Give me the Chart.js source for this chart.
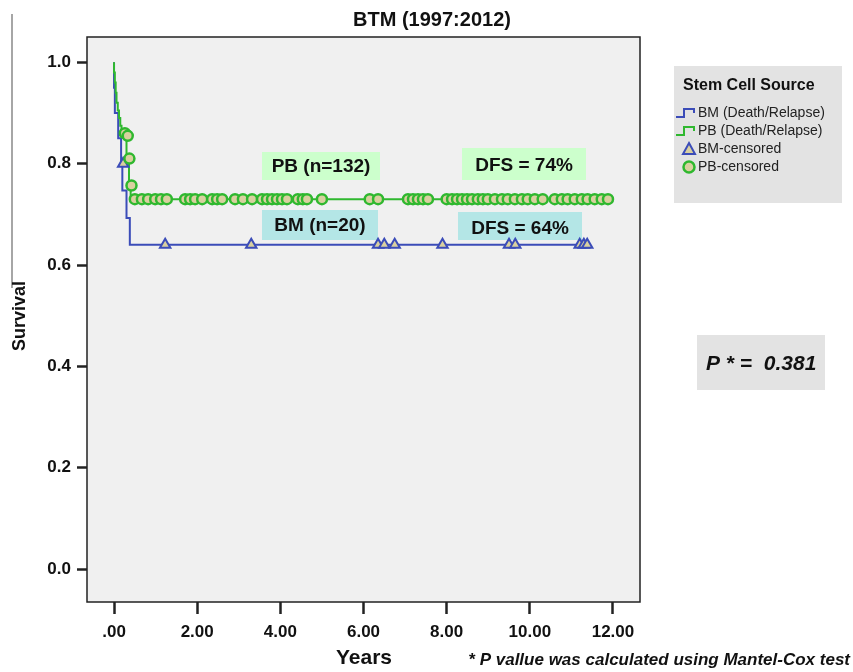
<!DOCTYPE html>
<html>
<head>
<meta charset="utf-8">
<script src="https://cdn.jsdelivr.net/npm/chart.js@4.4.1/dist/chart.umd.min.js"></script>
<style>
  body { margin: 0; background: #fff; }
  #wrap { width: 853px; height: 672px; position: relative; }
</style>
</head>
<body>
<div id="wrap"><canvas id="kmChart" width="853" height="672"></canvas></div>
<script>
// axis ticks
const xTicks = [0, 2, 4, 6, 8, 10, 12];
const yTicks = [0, 0.2, 0.4, 0.6, 0.8, 1.0];

// BM (Death/Relapse) step curve
const bmTimes = [0, 0.02, 0.10, 0.17, 0.20, 0.30, 0.38, 0.43, 11.38];
const bmSurv  = [1.0, 0.95, 0.90, 0.85, 0.80, 0.747, 0.693, 0.64, 0.64];
// BM censored
const bmCensT = [0.22, 1.23, 3.3, 6.35, 6.5, 6.75, 7.9, 9.5, 9.65, 11.2, 11.3, 11.38];
const bmCensS = [0.80, 0.64, 0.64, 0.64, 0.64, 0.64, 0.64, 0.64, 0.64, 0.64, 0.64, 0.64];

// PB (Death/Relapse) step curve
const pbTimes = [0, 0.02, 0.04, 0.06, 0.09, 0.12, 0.15, 0.18, 0.21, 0.24, 0.30, 0.36, 0.40, 0.45, 11.9];
const pbSurv  = [1.0, 0.98, 0.96, 0.94, 0.92, 0.905, 0.89, 0.875, 0.865, 0.86, 0.855, 0.81, 0.757, 0.73, 0.73];
// PB censored
const pbCensT = [0.26, 0.33, 0.37, 0.42,
  0.50, 0.67, 0.82, 0.99, 1.13, 1.27, 1.71, 1.83, 1.95, 2.12, 2.36, 2.48, 2.6, 2.91, 3.1,
  3.32, 3.56, 3.68, 3.8, 3.92, 4.04, 4.16, 4.42, 4.54, 4.64, 5.0, 6.15, 6.35,
  7.07, 7.19, 7.31, 7.43, 7.55, 8.0, 8.13, 8.25, 8.37, 8.49, 8.61, 8.75, 8.87,
  8.99, 9.16, 9.33, 9.47, 9.64, 9.81, 9.95, 10.12, 10.31, 10.6, 10.77, 10.91,
  11.08, 11.25, 11.39, 11.56, 11.73, 11.88];
const pbCensS = pbCensT.map((t, i) => [0.86, 0.855, 0.81, 0.757][i] ?? 0.73);

const BLUE = "#3b4cb8";
const GREEN = "#2fb82f";
const KHAKI = "#d9d0a0";
const NARROW = "'Liberation Sans Narrow', 'Liberation Sans', Arial, sans-serif";
const SANS = "'Liberation Sans', Arial, sans-serif";

const pts = (xs, ys) => xs.map((x, i) => ({ x: x, y: ys[i] }));

function box(ctx, x, y, w, h, bg) {
  ctx.fillStyle = bg;
  ctx.fillRect(x, y, w, h);
}

const decor = {
  id: "decor",
  beforeDraw(chart) {
    const { ctx, chartArea: a } = chart;
    ctx.save();
    ctx.fillStyle = "#f0f0f0";
    ctx.fillRect(a.left, a.top, a.right - a.left, a.bottom - a.top);
    // annotation boxes
    ctx.font = "bold 19px " + SANS;
    ctx.textBaseline = "middle";
    ctx.textAlign = "center";
    box(ctx, 262, 152, 118, 28, "#ccffcc");
    box(ctx, 462, 148, 124, 32, "#ccffcc");
    box(ctx, 262, 210, 116, 30, "#b4e6e6");
    box(ctx, 458, 212, 124, 28, "#b4e6e6");
    ctx.fillStyle = "#111";
    ctx.fillText("PB (n=132)", 321, 167);
    ctx.fillText("DFS = 74%", 524, 166);
    ctx.fillText("BM (n=20)", 320, 226);
    ctx.fillText("DFS = 64%", 520, 229);
    ctx.restore();
  },
  afterDraw(chart) {
    const { ctx, chartArea: a } = chart;
    ctx.save();
    // plot frame
    ctx.strokeStyle = "#222";
    ctx.lineWidth = 1.5;
    ctx.strokeRect(a.left, a.top, a.right - a.left, a.bottom - a.top);
    // left stray line
    ctx.strokeStyle = "#888";
    ctx.lineWidth = 1.5;
    ctx.beginPath();
    ctx.moveTo(12, 14);
    ctx.lineTo(12, 288);
    ctx.stroke();
    // title
    ctx.fillStyle = "#111";
    ctx.textAlign = "center";
    ctx.textBaseline = "middle";
    ctx.font = "bold 20px " + NARROW;
    ctx.fillText("BTM (1997:2012)", 432, 20);
    // x title + footnote
    ctx.font = "bold 21px " + NARROW;
    ctx.fillText("Years", 364, 658);
    ctx.font = "italic bold 17px " + NARROW;
    ctx.textAlign = "right";
    ctx.fillText("* P vallue was calculated using Mantel-Cox test", 850, 660);
    // y title
    ctx.save();
    ctx.translate(20, 316);
    ctx.rotate(-Math.PI / 2);
    ctx.textAlign = "center";
    ctx.font = "bold 18px " + SANS;
    ctx.fillText("Survival", 0, 0);
    ctx.restore();
    // legend
    box(ctx, 674, 66, 168, 137, "#e3e3e3");
    ctx.fillStyle = "#111";
    ctx.textAlign = "left";
    ctx.font = "bold 16px " + SANS;
    ctx.fillText("Stem Cell Source", 683, 86);
    ctx.font = "14px " + SANS;
    const rows = [
      ["BM (Death/Relapse)", "step", BLUE],
      ["PB (Death/Relapse)", "step", GREEN],
      ["BM-censored", "tri", BLUE],
      ["PB-censored", "circ", GREEN]
    ];
    rows.forEach((r, i) => {
      const y = 113 + i * 18;
      ctx.strokeStyle = r[2];
      ctx.lineWidth = 2;
      if (r[1] === "step") {
        ctx.beginPath();
        ctx.moveTo(676, y + 4);
        ctx.lineTo(684, y + 4);
        ctx.lineTo(684, y - 4);
        ctx.lineTo(694, y - 4);
        ctx.lineTo(694, y);
        ctx.stroke();
      } else if (r[1] === "tri") {
        ctx.fillStyle = KHAKI;
        ctx.beginPath();
        ctx.moveTo(689, y - 6);
        ctx.lineTo(695, y + 5);
        ctx.lineTo(683, y + 5);
        ctx.closePath();
        ctx.fill();
        ctx.stroke();
      } else {
        ctx.fillStyle = KHAKI;
        ctx.lineWidth = 2.5;
        ctx.beginPath();
        ctx.arc(689, y, 5.5, 0, Math.PI * 2);
        ctx.fill();
        ctx.stroke();
      }
      ctx.fillStyle = "#222";
      ctx.fillText(r[0], 698, y);
    });
    // p value box
    box(ctx, 697, 335, 128, 55, "#e3e3e3");
    ctx.fillStyle = "#111";
    ctx.font = "italic bold 21px " + SANS;
    ctx.fillText("P * =  0.381", 706, 364);
    ctx.restore();
  }
};

new Chart(document.getElementById("kmChart"), {
  type: "line",
  data: {
    datasets: [
      {
        label: "BM (Death/Relapse)",
        data: pts(bmTimes, bmSurv),
        borderColor: BLUE,
        borderWidth: 2,
        stepped: "after",
        pointRadius: 0,
        fill: false,
        order: 3
      },
      {
        label: "PB (Death/Relapse)",
        data: pts(pbTimes, pbSurv),
        borderColor: GREEN,
        borderWidth: 2,
        stepped: "after",
        pointRadius: 0,
        fill: false,
        order: 2
      },
      {
        type: "scatter",
        label: "BM-censored",
        data: pts(bmCensT, bmCensS),
        pointStyle: "triangle",
        pointRadius: 6,
        pointBackgroundColor: KHAKI,
        pointBorderColor: BLUE,
        pointBorderWidth: 2,
        showLine: false,
        order: 1
      },
      {
        type: "scatter",
        label: "PB-censored",
        data: pts(pbCensT, pbCensS),
        pointStyle: "circle",
        pointRadius: 5,
        pointBackgroundColor: KHAKI,
        pointBorderColor: GREEN,
        pointBorderWidth: 2.5,
        showLine: false,
        order: 0
      }
    ]
  },
  options: {
    responsive: false,
    animation: false,
    layout: { padding: { left: 0, top: 37, right: 213, bottom: 0 } },
    plugins: { legend: { display: false }, tooltip: { enabled: false } },
    scales: {
      x: {
        type: "linear",
        min: -0.65,
        max: 12.65,
        afterBuildTicks: axis => { axis.ticks = xTicks.map(v => ({ value: v })); },
        afterFit: scale => { scale.height = 70; },
        ticks: {
          padding: 8,
          color: "#111",
          font: { family: NARROW, weight: "bold", size: 17 },
          callback: v => (v === 0 ? ".00" : v.toFixed(2))
        },
        grid: { drawOnChartArea: false, drawTicks: true, tickLength: 12, tickWidth: 2.5, tickColor: "#222" },
        border: { display: false }
      },
      y: {
        type: "linear",
        min: -0.065,
        max: 1.05,
        afterBuildTicks: axis => { axis.ticks = yTicks.map(v => ({ value: v })); },
        afterFit: scale => { scale.width = 87; },
        ticks: {
          padding: 6,
          color: "#111",
          font: { family: SANS, weight: "bold", size: 17 },
          callback: v => v.toFixed(1)
        },
        grid: { drawOnChartArea: false, drawTicks: true, tickLength: 10, tickWidth: 2.5, tickColor: "#222" },
        border: { display: false }
      }
    }
  },
  plugins: [decor]
});
</script>
</body>
</html>
